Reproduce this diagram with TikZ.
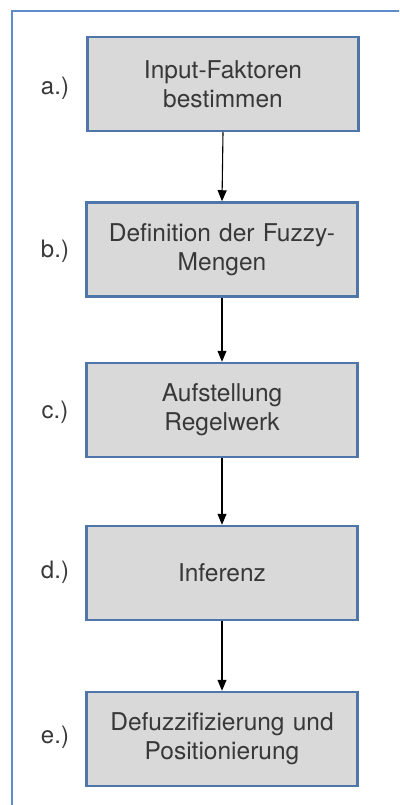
\documentclass[tikz,border=0pt]{standalone}
\usepackage{fontspec}
\setmainfont{TeX Gyre Heros}
\usetikzlibrary{arrows.meta}

\definecolor{framecol}{RGB}{95,140,200}
\definecolor{boxcol}{RGB}{78,118,168}
\definecolor{boxfill}{RGB}{217,217,217}

\tikzset{
    stepbox/.style={draw=boxcol, line width=2.5pt, fill=boxfill,
        minimum width=271pt, minimum height=94pt, text width=262pt,
        align=center, inner sep=0pt, text=black!78,
        font=\fontsize{24.5}{29}\selectfont},
    steplabel/.style={text=black!78, inner sep=0pt,
        font=\fontsize{24}{29}\selectfont},
    flow/.style={black, line width=1.1pt, -{Triangle[width=9pt,length=11pt]}}
}

\begin{document}
\begin{tikzpicture}[x=1pt, y=-1pt]

    \useasboundingbox (0,0) rectangle (399,805);
    \clip (0,0) rectangle (399,805);

    % outer frame (runs off the right and bottom)
    \draw[framecol, line width=1.6pt] (12,820) -- (12,11) -- (420,11);

    % steps
    \node[stepbox] (inp) at (223,84) {Input-Faktoren\\bestimmen};
    \node[stepbox] (def) at (222,249.5) {Definition der Fuzzy-\\Mengen};
    \node[stepbox] (reg) at (222,410) {Aufstellung\\Regelwerk};
    \node[stepbox] (inf) at (222,573) {Inferenz};
    \node[stepbox] (dfz) at (222,739) {Defuzzifizierung und\\Positionierung};

    % step letters
    \node[steplabel] (la) at (55,88) {a.)};
    \node[steplabel] (lb) at (55,251) {b.)};
    \node[steplabel] (lc) at (55,412) {c.)};
    \node[steplabel] (ld) at (55,572) {d.)};
    \node[steplabel] (le) at (55,737) {e.)};

    % connectors
    \foreach \a/\b in {inp/def, def/reg, reg/inf, inf/dfz} {
        \draw[flow] (\a.south) -- (\b.north);
    }

\end{tikzpicture}
\end{document}
